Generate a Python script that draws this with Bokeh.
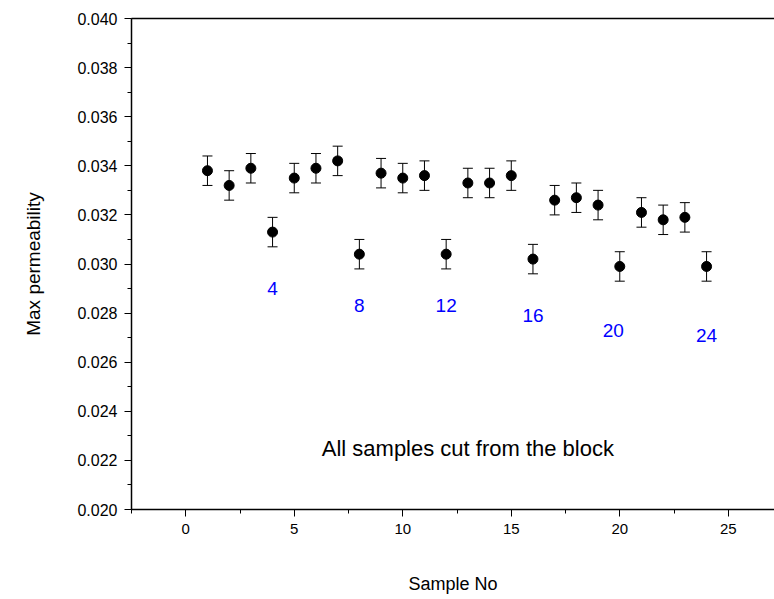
from bokeh.plotting import figure
from bokeh.models import (ColumnDataSource, Whisker, TeeHead, LinearAxis,
                          SingleIntervalTicker, NumeralTickFormatter, FixedTicker, Range1d)
from bokeh.core.properties import value
from bokeh.embed import file_html
from bokeh.resources import INLINE

# ---- data ----
sample_no = [1, 2, 3, 4, 5, 6, 7, 8, 9, 10, 11, 12,
             13, 14, 15, 16, 17, 18, 19, 20, 21, 22, 23, 24]
max_perm = [0.0338, 0.0332, 0.0339, 0.0313, 0.0335, 0.0339, 0.0342, 0.0304,
            0.0337, 0.0335, 0.0336, 0.0304, 0.0333, 0.0333, 0.0336, 0.0302,
            0.0326, 0.0327, 0.0324, 0.0299, 0.0321, 0.0318, 0.0319, 0.0299]
err = [0.0006] * 24

label_text = ["4", "8", "12", "16", "20", "24"]
label_x = [4.0, 8.0, 12.0, 16.0, 19.7, 24.0]
label_y = [0.0290, 0.0283, 0.0283, 0.0279, 0.0273, 0.0271]

note_text = ["All samples cut from the block"]
note_x = [13.0]
note_y = [0.0225]

FONT = "Liberation Sans"

src = ColumnDataSource(dict(
    x=sample_no, y=max_perm,
    upper=[v + e for v, e in zip(max_perm, err)],
    lower=[v - e for v, e in zip(max_perm, err)],
))

p = figure(width=774, height=599, output_backend="svg", toolbar_location=None,
           x_range=Range1d(-2.5, 27.13), y_range=Range1d(0.020, 0.040),
           min_border_left=131, min_border_right=0, min_border_top=18,
           min_border_bottom=90, x_axis_label="Sample No",
           y_axis_label="Max permeability")
p.outline_line_color = None
p.xgrid.visible = False
p.ygrid.visible = False
p.background_fill_color = "white"
p.border_fill_color = "white"

xa = p.xaxis[0]
xa.ticker = SingleIntervalTicker(interval=5, num_minor_ticks=2)
ya = p.yaxis[0]
ya.ticker = SingleIntervalTicker(interval=0.002, num_minor_ticks=2)
ya.formatter = NumeralTickFormatter(format="0.000")

for ax in (xa, ya):
    ax.axis_line_color = "black"
    ax.axis_line_width = 1.5
    ax.major_tick_line_color = "black"
    ax.minor_tick_line_color = "black"
    ax.major_tick_in = 0
    ax.major_tick_out = 7
    ax.minor_tick_in = 0
    ax.minor_tick_out = 4
    ax.major_label_text_font = FONT
    ax.major_label_text_color = "black"
    ax.axis_label_text_font = FONT
    ax.axis_label_text_font_style = "normal"
    ax.axis_label_text_color = "black"

ya.major_label_text_font_size = "16px"
xa.major_label_text_font_size = "15px"
ya.axis_label_text_font_size = "19px"
xa.axis_label_text_font_size = "18px"

ya.major_label_standoff = 7
ya.axis_label_standoff = 30
xa.major_label_standoff = 7
xa.axis_label_standoff = 37

top = LinearAxis(ticker=FixedTicker(ticks=[]), axis_line_color="black",
                 axis_line_width=1.5, major_tick_out=0, minor_tick_out=0,
                 major_label_text_font_size="0px")
p.add_layout(top, "above")

p.add_layout(Whisker(source=src, base="x", upper="upper", lower="lower",
                     line_color="black", line_width=1,
                     upper_head=TeeHead(size=10, line_color="black", line_width=1),
                     lower_head=TeeHead(size=10, line_color="black", line_width=1)))

p.scatter("x", "y", source=src, size=10, color="black")

p.text(x=label_x, y=label_y, text=label_text, text_color="blue",
       text_font=value(FONT), text_font_size="19px",
       text_align="center", text_baseline="middle")
p.text(x=note_x, y=note_y, text=note_text, text_color="black",
       text_font=value(FONT), text_font_size="22px",
       text_align="center", text_baseline="middle")

open("out.html", "w").write(file_html(p, INLINE))
